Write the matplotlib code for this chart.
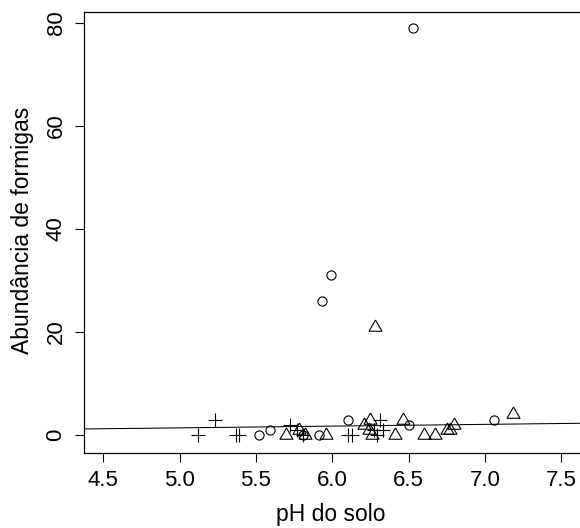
import matplotlib
matplotlib.use("Agg")
import matplotlib.pyplot as plt
import numpy as np

plt.rcParams['font.family'] = ['Liberation Sans', 'DejaVu Sans']

# circles
circ_ph = [5.52, 5.59, 5.81, 5.91, 5.93, 5.99, 6.10, 6.50, 6.53, 7.06]
circ_ab = [0, 1, 0, 0, 26, 31, 3, 2, 79, 3]
# triangles
tri_ph = [5.70, 5.78, 5.82, 5.96, 6.21, 6.25, 6.24, 6.26, 6.28, 6.41, 6.46,
          6.60, 6.67, 6.75, 6.77, 6.80, 7.18]
tri_ab = [0, 1, 0, 0, 2, 3, 1, 0, 21, 0, 3, 0, 0, 1, 1, 2, 4]
# pluses
plus_ph = [5.12, 5.23, 5.37, 5.39, 5.72, 5.77, 5.81, 6.10, 6.13, 6.27, 6.29,
           6.31, 6.33]
plus_ab = [0, 3, 0, 0, 2, 1, 0, 0, 0, 1, 0, 3, 1]

# fitted line (endpoints)
line_ph = [4.376, 7.622]
line_ab = [1.17, 2.27]

xticks = [4.5, 5.0, 5.5, 6.0, 6.5, 7.0, 7.5]
yticks = [0, 20, 40, 60, 80]

W, H = 580, 528
fig = plt.figure(figsize=(W / 100, H / 100), dpi=100)
left, top, bottom = 84.3, 12.0, 452.5
ax = fig.add_axes([left / W, 1 - bottom / H, (W - left) / W, (bottom - top) / H])

tri_marker = [(0, 1), (-0.866, -0.5), (0.866, -0.5), (0, 1)]

lw = 0.8
ax.plot(circ_ph, circ_ab, linestyle='none', marker='o', markersize=6.6,
        markerfacecolor='none', markeredgecolor='black', markeredgewidth=lw)
ax.plot(tri_ph, tri_ab, linestyle='none', marker=tri_marker, markersize=10.8,
        markerfacecolor='none', markeredgecolor='black', markeredgewidth=lw)
ax.plot(plus_ph, plus_ab, linestyle='none', marker='+', markersize=9.4,
        markeredgecolor='black', markeredgewidth=lw)
ax.plot(line_ph, line_ab, color='black', linewidth=0.75)

ax.set_xlim(4.376, 7.622)
ax.set_ylim(-3.4, 82.1)
ax.set_xticks(xticks)
ax.set_xticklabels([f"{t:.1f}" for t in xticks])
ax.set_yticks(yticks)
ax.set_yticklabels([str(t) for t in yticks], rotation=90, va='center')

for s in ['left', 'bottom', 'top']:
    ax.spines[s].set_linewidth(0.9)
ax.spines['right'].set_visible(False)

ax.tick_params(axis='both', length=6.8, width=0.8, labelsize=16, color='black')
ax.tick_params(axis='x', pad=5.5)
ax.tick_params(axis='y', pad=6.0)

ax.set_xlabel("pH do solo", fontsize=16.5)
ax.set_ylabel("Abundância de formigas", fontsize=16.5)
ax.xaxis.set_label_coords((331 - left) / (W - left), (bottom - 515) / (bottom - top))
ax.xaxis.label.set_va('center')
ax.yaxis.set_label_coords((23 - left) / (W - left), 0.505)
ax.yaxis.label.set_va('center')

fig.savefig("out.png", dpi=100)
